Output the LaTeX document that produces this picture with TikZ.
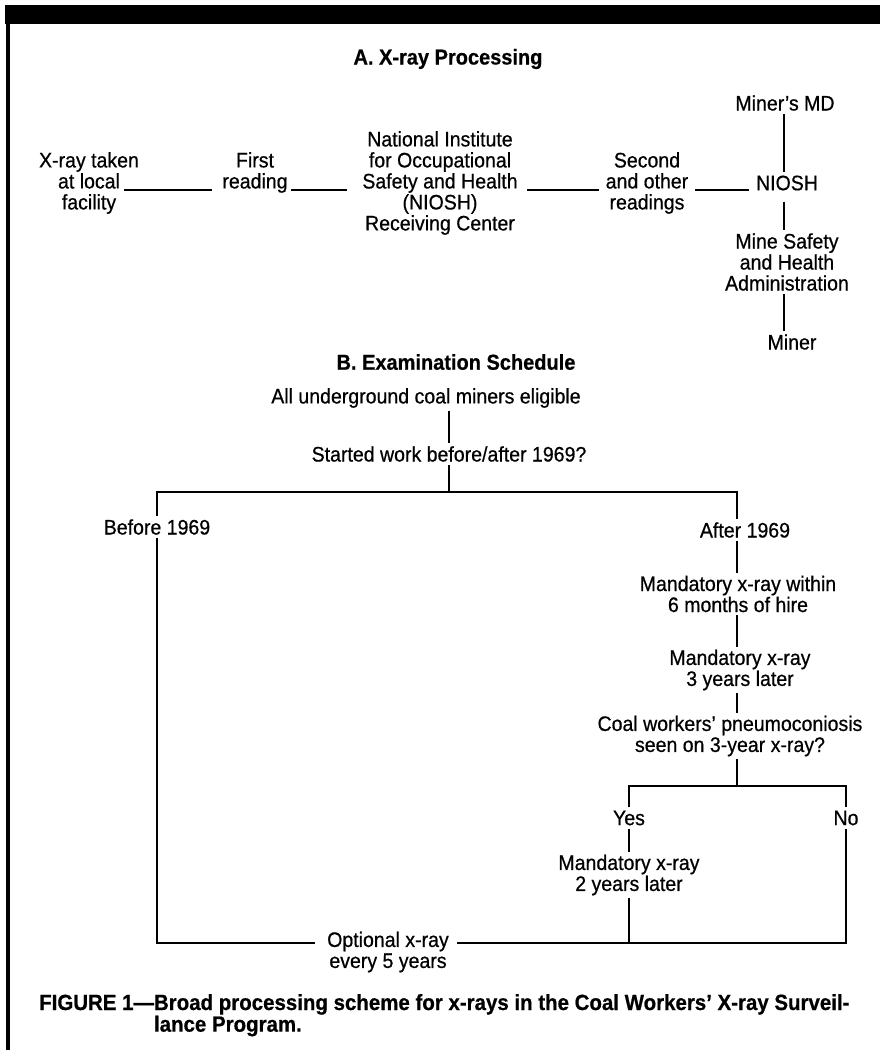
\documentclass[tikz,border=0pt]{standalone}
\usepackage{fontspec}
\setmainfont{Liberation Sans}
\newfontfamily\bodyf{Liberation Sans}[Ligatures=TeX, FakeStretch=0.93, FakeBold=0.6]
\newfontfamily\boldf{Liberation Sans Bold}[Ligatures=TeX, FakeStretch=0.93, FakeBold=0.6]
\begin{document}
\begin{tikzpicture}[x=1pt,y=-1pt,
  txt/.style={inner xsep=0pt, inner ysep=3pt, align=center, font=\bodyf\fontsize{21}{21}\selectfont},
  ttl/.style={inner sep=0pt, font=\boldf\fontsize{21.5}{22}\selectfont},
  ln/.style={line width=1.6pt}]
\useasboundingbox (0,0) rectangle (880,1050);
% frame
\fill (5,5) rectangle (880,24);
\fill (5.5,24) rectangle (9.5,1050);

% ---------- A ----------
\node[ttl] (titleA) at (448,59) {A. X-ray Processing};
\node[txt] (xray) at (89,183) {X-ray taken\\at local\\facility};
\node[txt] (first) at (255,172.5) {First\\reading};
\node[txt] (nb) at (440,183) {National Institute\\for Occupational\\Safety and Health\\(NIOSH)\\Receiving Center};
\node[txt] (second) at (647,183) {Second\\and other\\readings};
\node[txt] (nioshR) at (787,183) {NIOSH};
\node[txt] (mmd) at (785,103) {Miner’s MD};
\node[txt] (msha) at (787,262) {Mine Safety\\and Health\\Administration};
\node[txt] (miner) at (792,342) {Miner};

\coordinate (lA) at (0,190);
\coordinate (sA) at (784,0);
\draw[ln] ([xshift=-15pt]xray.east |- lA) -- ([xshift=-10pt]first.west |- lA);
\draw[ln] ([xshift=3pt]first.east |- lA) -- ([xshift=-15pt]nb.west |- lA);
\draw[ln] ([xshift=9pt]nb.east |- lA) -- ([xshift=-7pt]second.west |- lA);
\draw[ln] ([xshift=7pt]second.east |- lA) -- ([xshift=-7pt]nioshR.west |- lA);
\draw[ln] (mmd.south -| sA) -- (nioshR.north -| sA);
\draw[ln] ([yshift=-8pt]nioshR.south -| sA) -- (msha.north -| sA);
\draw[ln] (msha.south -| sA) -- (miner.north -| sA);

% ---------- B ----------
\node[ttl] (titleB) at (456,362) {B. Examination Schedule};
\node[txt] (all) at (426,398) {All underground coal miners eligible};
\node[txt] (started) at (449,454) {Started work before/after 1969?};
\node[txt] (before) at (157,527) {Before 1969};
\node[txt] (after) at (745,530) {After 1969};
\node[txt] (mand1) at (738,594) {Mandatory x-ray within\\6 months of hire};
\node[txt] (mand3) at (740,670) {Mandatory x-ray\\3 years later};
\node[txt] (coal) at (730,736) {Coal workers’ pneumoconiosis\\seen on 3-year x-ray?};
\node[txt] (yes) at (629,818) {Yes};
\node[txt] (no) at (846,818) {No};
\node[txt] (mand2) at (629,875) {Mandatory x-ray\\2 years later};
\node[txt] (optional) at (388,952) {Optional x-ray\\every 5 years};

\coordinate (sB) at (449,0);
\coordinate (split1) at (449,492);
\coordinate (cR) at (737,0);
\coordinate (split2) at (737,786);
\coordinate (lB) at (0,943);
\draw[ln] (all.south -| sB) -- (started.north -| sB);
\draw[ln] (started.south -| sB) -- (split1);
\draw[ln] (before.north) |- (split1) -| (after.north -| cR);
\draw[ln] (before.south) -- (before.south |- lB) -- ([xshift=-12pt]optional.west |- lB);
\draw[ln] (after.south -| cR) -- (mand1.north -| cR);
\draw[ln] (mand1.south -| cR) -- (mand3.north -| cR);
\draw[ln] (mand3.south -| cR) -- (coal.north -| cR);
\draw[ln] (coal.south -| cR) -- (split2);
\draw[ln] (yes.north) |- (split2) -| (no.north);
\draw[ln] (yes.south) -- (mand2.north);
\draw[ln] (mand2.south) -- (mand2.south |- lB);
\draw[ln] ([xshift=8pt]optional.east |- lB) -- (no.south |- lB) -- (no.south);

% ---------- caption ----------
\node[inner sep=0pt, anchor=base west, font=\boldf\fontsize{22}{19}\selectfont] (caption) at (39,1010)
  {FIGURE 1\textemdash\begin{tabular}[t]{@{}l@{}}Broad processing scheme for x-rays in the Coal Workers’ X-ray Surveil-\\lance Program.\end{tabular}};
\end{tikzpicture}
\end{document}
